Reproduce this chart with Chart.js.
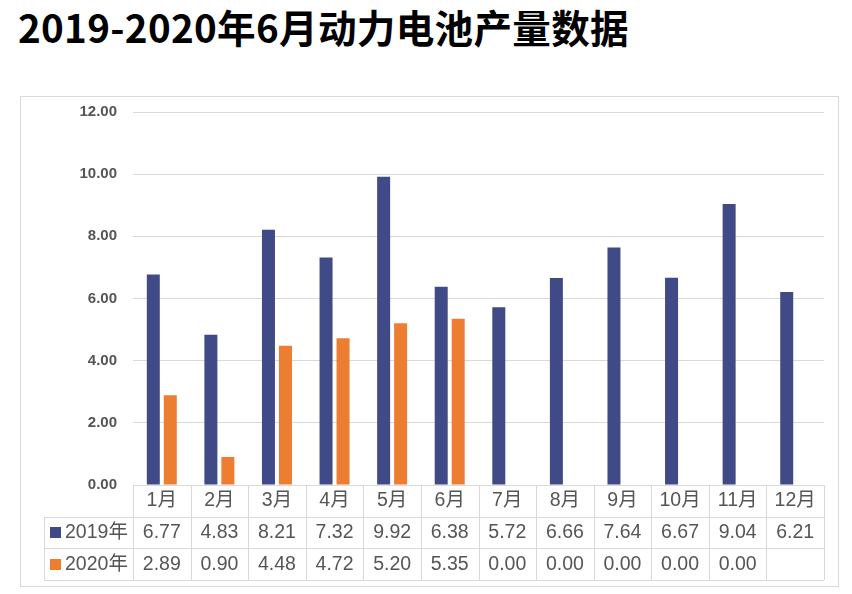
<!DOCTYPE html>
<html><head><meta charset="utf-8">
<script src="https://cdn.jsdelivr.net/npm/chart.js@4"></script>
<style>
html,body{margin:0;padding:0;background:#fff;width:852px;height:594px;overflow:hidden}
#title{position:absolute;left:18px;top:7px;font-family:"Noto Sans CJK SC";font-weight:700;font-size:38.6px;line-height:39px;color:#000;white-space:nowrap;letter-spacing:0.3px}
#frame{position:absolute;left:20px;top:96px;width:817px;height:489px;border:1px solid #d9d9d9}
canvas{position:absolute;left:0;top:0}
</style></head><body>
<div id="title">2019-2020年6月动力电池产量数据</div>
<div id="frame"></div>
<canvas id="c" width="852" height="594"></canvas>
<script>
const categories = ['1月','2月','3月','4月','5月','6月','7月','8月','9月','10月','11月','12月'];
const seriesNames = ['2019年','2020年'];
const values2019 = [6.77,4.83,8.21,7.32,9.92,6.38,5.72,6.66,7.64,6.67,9.04,6.21];
const values2020 = [2.89,0.90,4.48,4.72,5.20,5.35,0.00,0.00,0.00,0.00,0.00,null];
const yTickLabels = ['0.00','2.00','4.00','6.00','8.00','10.00','12.00'];
const colors = ['#3f4a86','#ed7d31'];

const FONT = '"Liberation Sans", Arial, "Noto Sans CJK SC", sans-serif';
const TXT = '#555555';
const LINE = '#d9d9d9';

const tablePlugin = {
  id: 'dataTable',
  afterDraw(chart) {
    const ctx = chart.ctx;
    const x = chart.scales.x;
    const area = chart.chartArea;
    const n = categories.length;
    const cw = (x.right - x.left) / n;
    const top = area.bottom;
    const rowH = 31.7;
    const tableLeft = 44;
    const series = [values2019, values2020];
    ctx.save();
    ctx.strokeStyle = LINE;
    ctx.lineWidth = 1;
    ctx.beginPath();
    for (let i = 0; i <= n; i++) {
      const px = Math.round(x.left + i * cw) + 0.5;
      ctx.moveTo(px, top);
      ctx.lineTo(px, Math.round(top + 3 * rowH));
    }
    for (let r = 1; r <= 3; r++) {
      const py = Math.round(top + r * rowH) + 0.5;
      ctx.moveTo(tableLeft, py);
      ctx.lineTo(x.right, py);
    }
    ctx.moveTo(tableLeft + 0.5, Math.round(top + rowH));
    ctx.lineTo(tableLeft + 0.5, Math.round(top + 3 * rowH));
    ctx.stroke();

    ctx.font = '19.5px ' + FONT;
    ctx.fillStyle = TXT;
    ctx.textBaseline = 'middle';
    series.forEach((vals, s) => {
      const cy = top + (s + 1.5) * rowH;
      ctx.textAlign = 'center';
      ctx.fillStyle = TXT;
      vals.forEach((v, i) => {
        if (v === null || v === undefined) return;
        ctx.fillText(v.toFixed(2), x.getPixelForValue(i), cy);
      });
      ctx.fillStyle = colors[s];
      ctx.fillRect(50, Math.round(cy - 5.5), 11, 11);
      ctx.fillStyle = TXT;
      ctx.textAlign = 'left';
      ctx.fillText(seriesNames[s], 65, cy);
    });
    ctx.restore();
  }
};

new Chart(document.getElementById('c'), {
  type: 'bar',
  data: {
    labels: categories,
    datasets: [
      { label: seriesNames[0], data: values2019, backgroundColor: colors[0], borderWidth: 0,
        categoryPercentage: 0.59, barPercentage: 0.765 },
      { label: seriesNames[1], data: values2020, backgroundColor: colors[1], borderWidth: 0,
        categoryPercentage: 0.59, barPercentage: 0.765 }
    ]
  },
  options: {
    responsive: false,
    animation: false,
    devicePixelRatio: 1,
    layout: { padding: { left: 44, right: 28, top: 112, bottom: 78 } },
    plugins: { legend: { display: false }, title: { display: false }, tooltip: { enabled: false } },
    scales: {
      x: {
        grid: { display: false, drawTicks: false },
        border: { display: false },
        ticks: { color: TXT, font: { family: FONT, size: 19.5 }, padding: 4, maxRotation: 0, autoSkip: false },
        afterFit(s) { s.height = 31; }
      },
      y: {
        min: 0, max: 12,
        ticks: { stepSize: 2, color: TXT, padding: 16,
          font: { family: FONT, size: 15, weight: 'bold' },
          callback: (v) => yTickLabels[Math.round(v / 2)] },
        grid: { color: LINE, drawTicks: false },
        border: { display: false },
        afterFit(s) { s.width = 89; }
      }
    }
  },
  plugins: [tablePlugin]
});
</script>
</body></html>
